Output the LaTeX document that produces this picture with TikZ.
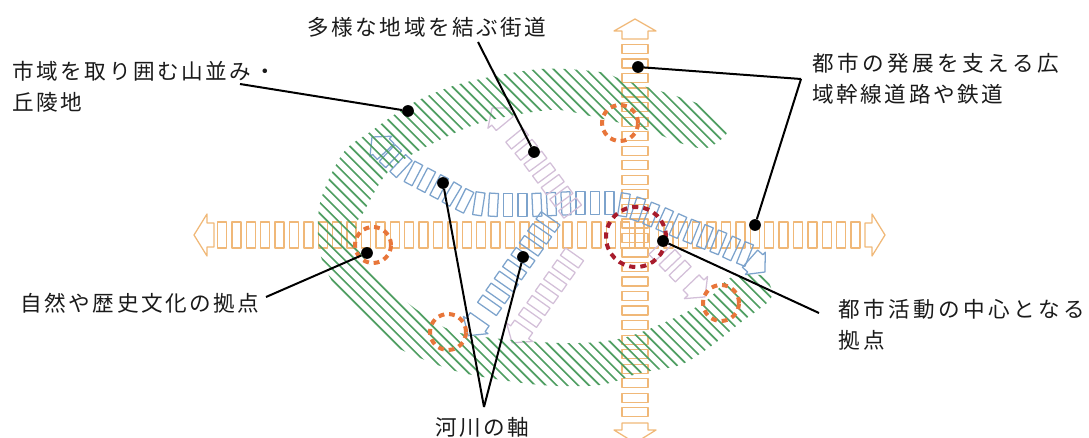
\documentclass[tikz,border=0pt]{standalone}
\usepackage{fontspec}
\setmainfont{Noto Sans CJK JP}
\newfontfamily\wideA{Noto Sans CJK JP}[LetterSpace=16]
\newfontfamily\wideB{Noto Sans CJK JP}[LetterSpace=12]
\usetikzlibrary{decorations.markings}
\definecolor{roadc}{HTML}{F0B878}
\definecolor{riverc}{HTML}{7DA3CC}
\definecolor{streetc}{HTML}{D3BFD8}
\definecolor{hillc}{HTML}{4F9E62}
\definecolor{hubc}{HTML}{E8763A}
\definecolor{corec}{HTML}{A81C2C}
\definecolor{txtc}{HTML}{1A1A1A}
\tikzset{
  rungline/.style={line width=0.95pt,line join=round},
  lbl/.style={anchor=west,inner sep=0pt,text=txtc,font=\wideB\fontsize{16.2pt}{18pt}\selectfont},
  lblwide/.style={lbl,font=\wideA\fontsize{16.2pt}{18pt}\selectfont},
  leaderline/.style={line width=1.5pt,black},
  dotn/.style={circle,fill=black,inner sep=0pt,minimum size=8.8pt},
  hub/.style={draw=hubc,line width=3pt,dash pattern=on 4.4pt off 3.6pt},
  corehub/.style={draw=corec,line width=3pt,dash pattern=on 4.6pt off 3.8pt},
  hatchline/.style={hillc,line width=1.25pt},
}
% colour, half width, wing half width, pitch in pt, path
\newcommand{\rungarrow}[5]{%
  \path[decorate,decoration={markings,
    mark=between positions 0pt and -19pt step #4pt with {\draw[#1,rungline] (-4.5,-#2) rectangle (4.5,#2);},
    mark=at position 1 with {\draw[#1,rungline] (-20,-#2)--(-13,-#2)--(-13,-#3)--(0,0)--(-13,#3)--(-13,#2)--(-20,#2)--cycle;}}]
    #5;}
\newcommand{\rungs}[5]{%
  \path[decorate,decoration={markings,
    mark=between positions 0pt and #4pt step 10.8pt with {\draw[#1,rungline] (-#3,-#2) rectangle (#3,#2);}}]
    #5;}
\newcommand{\headonly}[4]{%
  \path[decorate,decoration={markings,
    mark=at position 1 with {\draw[#1,rungline] (-20,-#2)--(-13,-#2)--(-13,-#3)--(0,0)--(-13,#3)--(-13,#2)--(-20,#2)--cycle;}}]
    #4;}
\begin{document}
\begin{tikzpicture}[x=0.75pt,y=-0.75pt]
\useasboundingbox (0,0) rectangle (1089,438);
\clip (0,0) rectangle (1089,438);
% roads
\rungs{roadc}{13}{4.5}{477}{(222,235) -- (885,235)}
\headonly{roadc}{12}{21}{(214,235) -- (194,235)}
\headonly{roadc}{12}{21}{(865,235) -- (885,235)}
\rungarrow{roadc}{13}{21}{10.9}{(635,49) -- (635,443)}
\draw[roadc,rungline] (622,39)--(622,31)--(614,31)--(635,19)--(656,31)--(648,31)--(648,39)--cycle;
% rivers
\rungarrow{riverc}{11.5}{15}{10.9}{(745,254) -- (735,250) -- (720,243) -- (700,235) -- (680,227) -- (660,218) -- (640,210) -- (625,205) -- (613,203) -- (595,203) -- (575,203) -- (533,205) -- (497,205) -- (480,204) -- (467,202) -- (455,196) -- (445,190) -- (424,179) -- (403,168) -- (387,153) -- (372,137)}
\headonly{riverc}{11.5}{15}{(747,256) -- (765,272)}
\rungarrow{riverc}{11.5}{15}{10.9}{(548,222) -- (468,336)}
% streets
\rungarrow{streetc}{11}{16}{10.9}{(570,208) -- (533,158) -- (492,108)}
\rungarrow{streetc}{11}{16}{10.9}{(660,250) -- (705,297)}
\rungarrow{streetc}{11}{16}{10.9}{(572,258) -- (512,343)}
% hills
\begin{scope}
\clip plot[smooth cycle] coordinates {(728,130) (707,108) (673,95) (623,80) (600,72) (540,69) (463,83) (413,103) (370,132) (343,153) (320,203) (320,253) (340,293) (387,340) (413,355) (463,373) (540,385) (600,385) (640,373) (680,365) (710,347) (740,323) (770,300) (770,285) (760,275) (730,278) (700,305) (627,337) (560,343) (460,333) (413,307) (377,273) (357,247) (357,223) (363,213) (387,173) (420,150) (480,123) (550,110) (590,116) (647,130) (680,143) (707,148)};
\foreach \c in {-520,-509.2,...,800} {\draw[hatchline] (\c,0) -- (\c+500,500);}
\end{scope}
% hubs
\node[hub,circle,minimum size=27pt,inner sep=0pt] (h1) at (620,123) {};
\node[hub,circle,minimum size=27pt,inner sep=0pt] (h2) at (373,245) {};
\node[hub,circle,minimum size=27pt,inner sep=0pt] (h3) at (448,332) {};
\node[hub,circle,minimum size=27pt,inner sep=0pt] (h4) at (721,303) {};
\node[corehub,circle,minimum size=45pt,inner sep=0pt] (h5) at (636,237) {};
% labels
\node[lbl] (t1) at (307,27) {多様な地域を結ぶ街道};
\node[lbl] (t2) at (12,71) {市域を取り囲む山並み・};
\node[lbl] (t3) at (12,102) {丘陵地};
\node[lblwide] (t4) at (812,63) {都市の発展を支える広};
\node[lbl] (t5) at (812,94) {域幹線道路や鉄道};
\node[lbl] (t6) at (20,303) {自然や歴史文化の拠点};
\node[lblwide] (t7) at (838,309) {都市活動の中心となる};
\node[lblwide] (t8) at (838,340) {拠点};
\node[lbl] (t9) at (435,427) {河川の軸};
% dots
\node[dotn] (d1) at (408,111) {};
\node[dotn] (d2) at (534,152) {};
\node[dotn] (d3) at (638,67) {};
\node[dotn] (d4) at (755,225) {};
\node[dotn] (d5) at (367,253) {};
\node[dotn] (d6) at (443,183) {};
\node[dotn] (d7) at (523,257) {};
\node[dotn] (d8) at (663,241) {};
% free ends
\coordinate (e1) at (240,84);
\coordinate (e2) at (478,42);
\coordinate (e3) at (801,79);
\coordinate (e5) at (266,297);
\coordinate (e6) at (484,407);
\coordinate (e8) at (819,313);
\draw[leaderline] (e1) -- (d1);
\draw[leaderline] (e2) -- (d2);
\draw[leaderline] (e3) -- (d3);
\draw[leaderline] (e3) -- (d4);
\draw[leaderline] (e5) -- (d5);
\draw[leaderline] (e6) -- (d6);
\draw[leaderline] (e6) -- (d7);
\draw[leaderline] (e8) -- (d8);
\end{tikzpicture}
\end{document}
